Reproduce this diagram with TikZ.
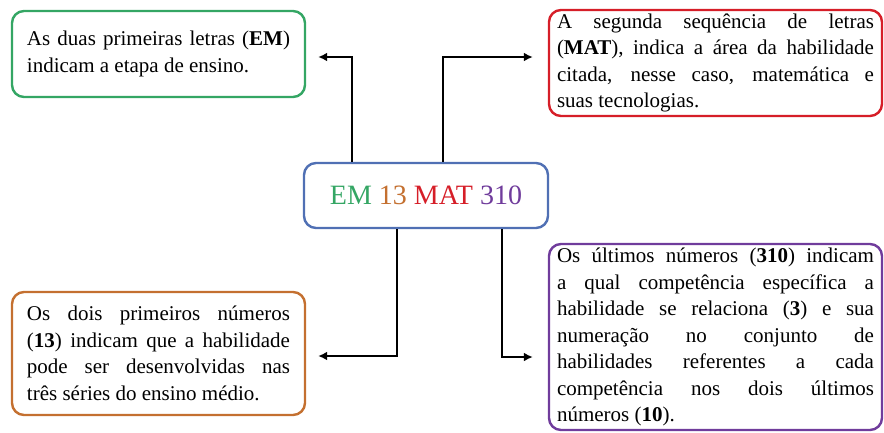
\documentclass[tikz,border=0pt]{standalone}
\usepackage{fontspec}
\setmainfont{Liberation Serif}
\usepackage{xcolor}
\usetikzlibrary{arrows.meta}
\definecolor{emgreen}{RGB}{52,166,100}
\definecolor{emorange}{RGB}{196,112,48}
\definecolor{emred}{RGB}{214,30,40}
\definecolor{empurple}{RGB}{112,60,156}
\definecolor{emblue}{RGB}{80,112,180}
\tikzstyle{infobox}=[line width=2.4pt, rounded corners=12pt, fill=white, text=black,
  align=justify, font=\fontsize{21}{26.5}\selectfont, inner ysep=2pt]
\tikzstyle{arr}=[line width=2.4pt, -{Latex[length=9pt,width=9pt]}]
\begin{document}
\begin{tikzpicture}[x=1pt, y=-1pt]
 \useasboundingbox (0,0) rectangle (884,432);
%
 \node[infobox, draw=emgreen, text width=263pt, inner xsep=15pt, minimum height=86pt] (em) at (158.5,54)
  {As duas primeiras letras (\textbf{EM})\linebreak indicam a etapa de ensino.};
 \node[infobox, draw=emred, text width=317pt, inner xsep=8pt, minimum height=106pt] (mat) at (715.5,63)
  {A segunda sequência de letras\linebreak (\textbf{MAT}), indica a área da habilidade\linebreak citada, nesse caso, matemática e\linebreak suas tecnologias.};
 \node[infobox, draw=emorange, text width=263pt, inner xsep=15pt, minimum height=123pt] (num) at (158.5,353.5)
  {Os dois primeiros números\linebreak (\textbf{13}) indicam que a habilidade\linebreak pode ser desenvolvidas nas\linebreak três séries do ensino médio.};
 \node[infobox, draw=empurple, text width=317pt, inner xsep=8pt, minimum height=186pt] (comp) at (715.5,337)
  {Os últimos números (\textbf{310}) indicam\linebreak a qual competência específica a\linebreak habilidade se relaciona (\textbf{3}) e sua\linebreak numeração no conjunto de\linebreak habilidades referentes a cada\linebreak competência nos dois últimos\linebreak números (\textbf{10}).};
%
 \node[draw=emblue, line width=2.4pt, rounded corners=12pt, fill=white, minimum width=244pt, minimum height=65pt,
  font=\fontsize{28}{34}\selectfont] (code) at (426,195.5)
  {\textcolor{emgreen}{EM} \textcolor{emorange}{13} \textcolor{emred}{MAT} \textcolor{empurple}{310}};
%
 \draw[arr, shorten >=12pt] ([xshift=-74pt]code.north) |- ([yshift=-3pt]em.east);
 \draw[arr, shorten >=15pt] ([xshift=17pt]code.north) |- ([yshift=6pt]mat.west);
 \draw[arr, shorten >=12pt] ([xshift=-29pt]code.south) |- ([yshift=-2.5pt]num.east);
 \draw[arr, shorten >=15pt] ([xshift=76pt]code.south) |- ([yshift=-20pt]comp.west);
\end{tikzpicture}
\end{document}
